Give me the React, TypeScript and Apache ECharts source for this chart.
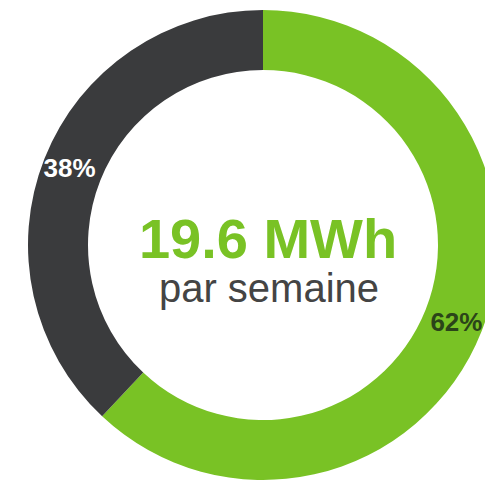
import React, { useEffect, useRef } from "react";
import * as echarts from "echarts";

const categories = ["Vert", "Gris"];
const values = [62, 38];
const sliceColors = ["#79c225", "#3a3b3d"];
const labelColors = ["#2b4419", "#ffffff"];
const mainValue = "19.6 MWh";
const subText = "par semaine";

export default function App() {
  const ref = useRef<HTMLDivElement>(null);
  useEffect(() => {
    if (!ref.current) return;
    const chart = echarts.init(ref.current, null, { renderer: "svg" });
    chart.setOption({
      animation: false,
      backgroundColor: "#ffffff",
      series: [
        {
          type: "pie",
          center: [263, 245],
          radius: [175, 235],
          startAngle: 90,
          clockwise: true,
          silent: true,
          label: {
            show: true,
            position: "inside",
            formatter: "{c}%",
            fontFamily: "Liberation Sans, Arial, sans-serif",
            fontWeight: "bold",
            fontSize: 26,
          },
          labelLine: { show: false },
          itemStyle: { borderWidth: 0 },
          data: categories.map((name, i) => ({
            name,
            value: values[i],
            itemStyle: { color: sliceColors[i] },
            label: { color: labelColors[i] },
          })),
        },
      ],
      graphic: [
        {
          type: "text",
          x: 268,
          y: 238,
          style: {
            text: mainValue,
            fill: "#79c225",
            font: "bold 56px 'Liberation Sans', Arial, sans-serif",
            textAlign: "center",
            textVerticalAlign: "middle",
          },
        },
        {
          type: "text",
          x: 269,
          y: 288,
          style: {
            text: subText,
            fill: "#444444",
            font: "40px 'Liberation Sans', Arial, sans-serif",
            textAlign: "center",
            textVerticalAlign: "middle",
          },
        },
      ],
    });
    return () => chart.dispose();
  }, []);
  return (
    <div
      ref={ref}
      style={{ position: "absolute", left: 0, top: 0, width: 485, height: 481 }}
    />
  );
}
